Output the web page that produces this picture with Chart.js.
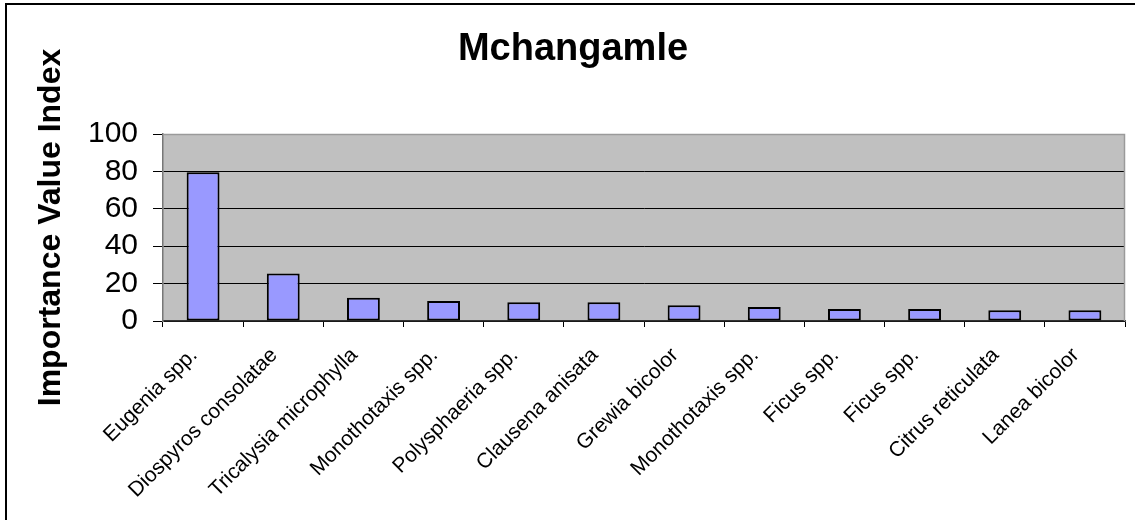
<!DOCTYPE html>
<html>
<head>
<meta charset="utf-8">
<title>Mchangamle</title>
<script src="https://cdn.jsdelivr.net/npm/chart.js@4.4.1/dist/chart.umd.min.js"></script>
<style>
  html, body { margin: 0; padding: 0; background: #fff; }
  #wrap { position: relative; width: 1135px; height: 520px; overflow: hidden; }
  #frame { position: absolute; left: 5px; top: 3px; width: 1200px; height: 600px;
           border-left: 2px solid #000; border-top: 2px solid #000; pointer-events: none; }
  canvas { position: absolute; left: 0; top: 0; }
</style>
</head>
<body>
<div id="wrap">
  <canvas id="chart" width="1135" height="520"></canvas>
  <div id="frame"></div>
</div>
<script>
// Species and their importance value index
const species = [
  'Eugenia spp.',
  'Diospyros consolatae',
  'Tricalysia microphylla',
  'Monothotaxis spp.',
  'Polysphaeria spp.',
  'Clausena anisata',
  'Grewia bicolor',
  'Monothotaxis spp.',
  'Ficus spp.',
  'Ficus spp.',
  'Citrus reticulata',
  'Lanea bicolor'
];
const ivi = [79.5, 25.4, 12.5, 10.7, 10.0, 10.0, 8.4, 7.5, 6.4, 6.4, 5.7, 5.7];
const yTicks = [0, 20, 40, 60, 80, 100];

const FONT = '"Liberation Sans", Arial, Helvetica, sans-serif';

// Grey plot background with a light frame on the top and right edges
const plotFrame = {
  id: 'plotFrame',
  beforeDraw(chart) {
    const { ctx, chartArea: a } = chart;
    ctx.save();
    ctx.fillStyle = '#C0C0C0';
    ctx.fillRect(a.left, a.top, a.right - a.left, a.bottom - a.top);
    ctx.restore();
  },
  afterDatasetsDraw(chart) {
    const { ctx, chartArea: a } = chart;
    ctx.save();
    ctx.strokeStyle = '#9a9a9a';
    ctx.lineWidth = 1.5;
    ctx.beginPath();
    ctx.moveTo(a.left, a.top + 0.5);
    ctx.lineTo(a.right - 0.5, a.top + 0.5);
    ctx.lineTo(a.right - 0.5, a.bottom);
    ctx.stroke();
    ctx.restore();
  }
};

new Chart(document.getElementById('chart'), {
  type: 'bar',
  data: {
    labels: species,
    datasets: [{
      data: ivi,
      backgroundColor: '#9999FF',
      borderColor: '#000000',
      borderWidth: 2,
      borderSkipped: false,
      categoryPercentage: 1.0,
      barPercentage: 0.41
    }]
  },
  options: {
    responsive: false,
    animation: false,
    devicePixelRatio: 1,
    layout: { padding: { left: 21, top: 0, right: 10, bottom: 0 } },
    plugins: {
      legend: { display: false },
      tooltip: { enabled: false },
      title: {
        display: true,
        text: 'Mchangamle',
        color: '#000',
        font: { family: FONT, size: 38, weight: 'bold', lineHeight: 1.2 },
        padding: { top: 27, bottom: 61.4 }
      }
    },
    scales: {
      x: {
        offset: true,
        grid: {
          offset: true,
          drawOnChartArea: false,
          drawTicks: true,
          tickLength: 6,
          tickColor: '#000',
          lineWidth: 1
        },
        border: { display: true, color: '#333', width: 1.5 },
        ticks: {
          color: '#000',
          font: { family: FONT, size: 21 },
          minRotation: 45,
          maxRotation: 45,
          autoSkip: false,
          padding: 16,
          labelOffset: -9
        },
        afterFit(scale) { scale.height = 199; }
      },
      y: {
        min: 0,
        max: 100,
        afterBuildTicks(scale) { scale.ticks = yTicks.map(v => ({ value: v })); },
        grid: {
          color: ctx => (ctx.tick && ctx.tick.value === 100) ? 'rgba(0,0,0,0)' : '#000',
          tickColor: '#000',
          tickLength: 10,
          lineWidth: 1
        },
        border: { display: true, color: '#777', width: 1.5 },
        ticks: {
          color: '#000',
          font: { family: FONT, size: 30 },
          padding: 15,
          autoSkip: false
        },
        title: {
          display: true,
          text: 'Importance Value Index',
          color: '#000',
          font: { family: FONT, size: 32, weight: 'bold', lineHeight: 1.2 },
          padding: { top: 11, bottom: 0 }
        },
        afterFit(scale) { scale.width = 142; }
      }
    }
  },
  plugins: [plotFrame]
});
</script>
</body>
</html>
